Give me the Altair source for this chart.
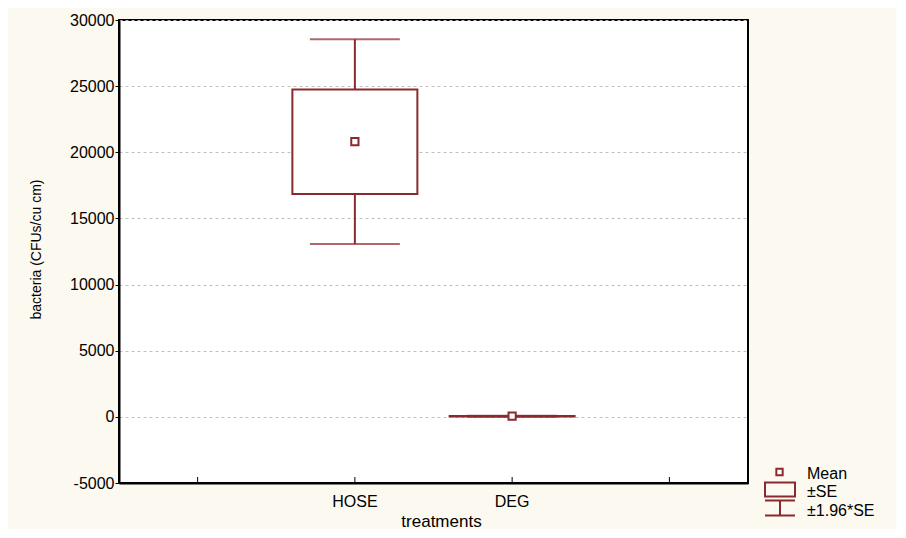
import altair as alt
import pandas as pd

# ---- data ----
treatments = ["HOSE", "DEG"]
means = [20800, 50]
se = [3950, 20]
slots = ["s0", "HOSE", "DEG", "s3"]          # x positions (outer slots are empty)
y_ticks = [-5000, 0, 5000, 10000, 15000, 20000, 25000, 30000]
legend_labels = ["Mean", "±SE", "±1.96*SE"]

COLOR = "#8B2A2E"
FONT = "Liberation Sans"
W, H = 629, 463

df = pd.DataFrame({"treatment": treatments, "mean": means, "se": se})
slot_df = pd.DataFrame({"treatment": slots})

xscale = alt.Scale(domain=slots, type="band", paddingInner=0, paddingOuter=0)
yscale = alt.Scale(domain=[-5000, 30000], nice=False, zero=False)

xaxis = alt.Axis(
    title="treatments", labelExpr="datum.label == 'HOSE' || datum.label == 'DEG' ? datum.label : ''",
    ticks=False, labelPadding=10, labelAngle=0, labelFontSize=16, labelFont=FONT,
    labelColor="#000", titleFont=FONT, titleFontSize=17, titleFontWeight="normal",
    titleColor="#000", titleX=322, titleY=43, titleBaseline="alphabetic",
    domainColor="#000", domainWidth=2, grid=False,
)
yaxis = alt.Axis(
    title="bacteria (CFUs/cu cm)", values=y_ticks,
    labelExpr="datum.value < 0 ? '-' + abs(datum.value) : '' + datum.value",
    tickSize=4, tickColor="#000", tickWidth=1, labelPadding=1, labelFontSize=16,
    labelFont=FONT, labelColor="#000", titleFont=FONT, titleFontSize=14,
    titleFontWeight="normal", titleColor="#000", titleX=-83, titleY=229,
    titleAngle=270, titleBaseline="middle", titleAlign="center",
    domainColor="#000", domainWidth=2, grid=True,
    gridColor="#BFBFBF", gridDash=[3, 3], gridWidth=1,
)

base = alt.Chart(df).transform_calculate(
    lo_se="datum.mean - datum.se", hi_se="datum.mean + datum.se",
    lo_ci="datum.mean - 1.96 * datum.se", hi_ci="datum.mean + 1.96 * datum.se",
)
X = alt.X("treatment:N", scale=xscale, axis=xaxis)

whisker = base.mark_rule(color=COLOR, strokeWidth=2).encode(
    x=X, y=alt.Y("lo_ci:Q", scale=yscale, axis=yaxis), y2="hi_ci:Q")
box = base.mark_bar(size=125, fill="white", stroke=COLOR, strokeWidth=2).encode(
    x=X, y=alt.Y("lo_se:Q", scale=yscale), y2="hi_se:Q")
cap_lo = base.mark_tick(size=90, thickness=2, color=COLOR).encode(
    x=X, y=alt.Y("lo_ci:Q", scale=yscale))
cap_hi = base.mark_tick(size=90, thickness=2, color=COLOR).encode(
    x=X, y=alt.Y("hi_ci:Q", scale=yscale))
mean_pt = base.mark_point(shape="square", size=52, filled=True, fill="white",
                          stroke=COLOR, strokeWidth=2, opacity=1).encode(
    x=X, y=alt.Y("mean:Q", scale=yscale))

# inward x-axis ticks
xticks = alt.Chart(slot_df).mark_rule(color="#000", strokeWidth=1).encode(
    x=alt.X("treatment:N", scale=xscale), y=alt.value(H), y2=alt.value(H - 6))

# ---- custom legend (outside plot, lower right) ----
one = pd.DataFrame({"k": [0]})
lg = []
lg.append(alt.Chart(one).mark_point(shape="square", size=40, filled=True, fill="white",
                                    stroke=COLOR, strokeWidth=2, opacity=1)
          .encode(x=alt.value(660.5), y=alt.value(452)))
lg.append(alt.Chart(one).mark_rect(fill="white", fillOpacity=0, stroke=COLOR, strokeWidth=2)
          .encode(x=alt.value(646), x2=alt.value(676), y=alt.value(462.5), y2=alt.value(476.5)))
lg.append(alt.Chart(one).mark_rule(color=COLOR, strokeWidth=2)
          .encode(x=alt.value(646), x2=alt.value(676), y=alt.value(480.5)))
lg.append(alt.Chart(one).mark_rule(color=COLOR, strokeWidth=2)
          .encode(x=alt.value(661), y=alt.value(480.5), y2=alt.value(495.5)))
lg.append(alt.Chart(one).mark_rule(color=COLOR, strokeWidth=2)
          .encode(x=alt.value(646), x2=alt.value(676), y=alt.value(495.5)))
for lab, yy in zip(legend_labels, [453.5, 472, 490.5]):
    lg.append(alt.Chart(one).mark_text(text=lab, align="left", baseline="middle",
                                       font=FONT, fontSize=16, color="#000")
              .encode(x=alt.value(688), y=alt.value(yy)))

chart = alt.layer(whisker, box, cap_lo, cap_hi, mean_pt, xticks, *lg).properties(
    width=W, height=H,
    autosize=alt.AutoSizeParams(type="none"),
    padding={"left": 111, "top": 12, "right": 148, "bottom": 46},
    background="#FCF9F0",
).configure_view(fill="white", stroke="#000", strokeWidth=2)

chart.save("out.html", embed_options={"renderer": "svg", "actions": False})
